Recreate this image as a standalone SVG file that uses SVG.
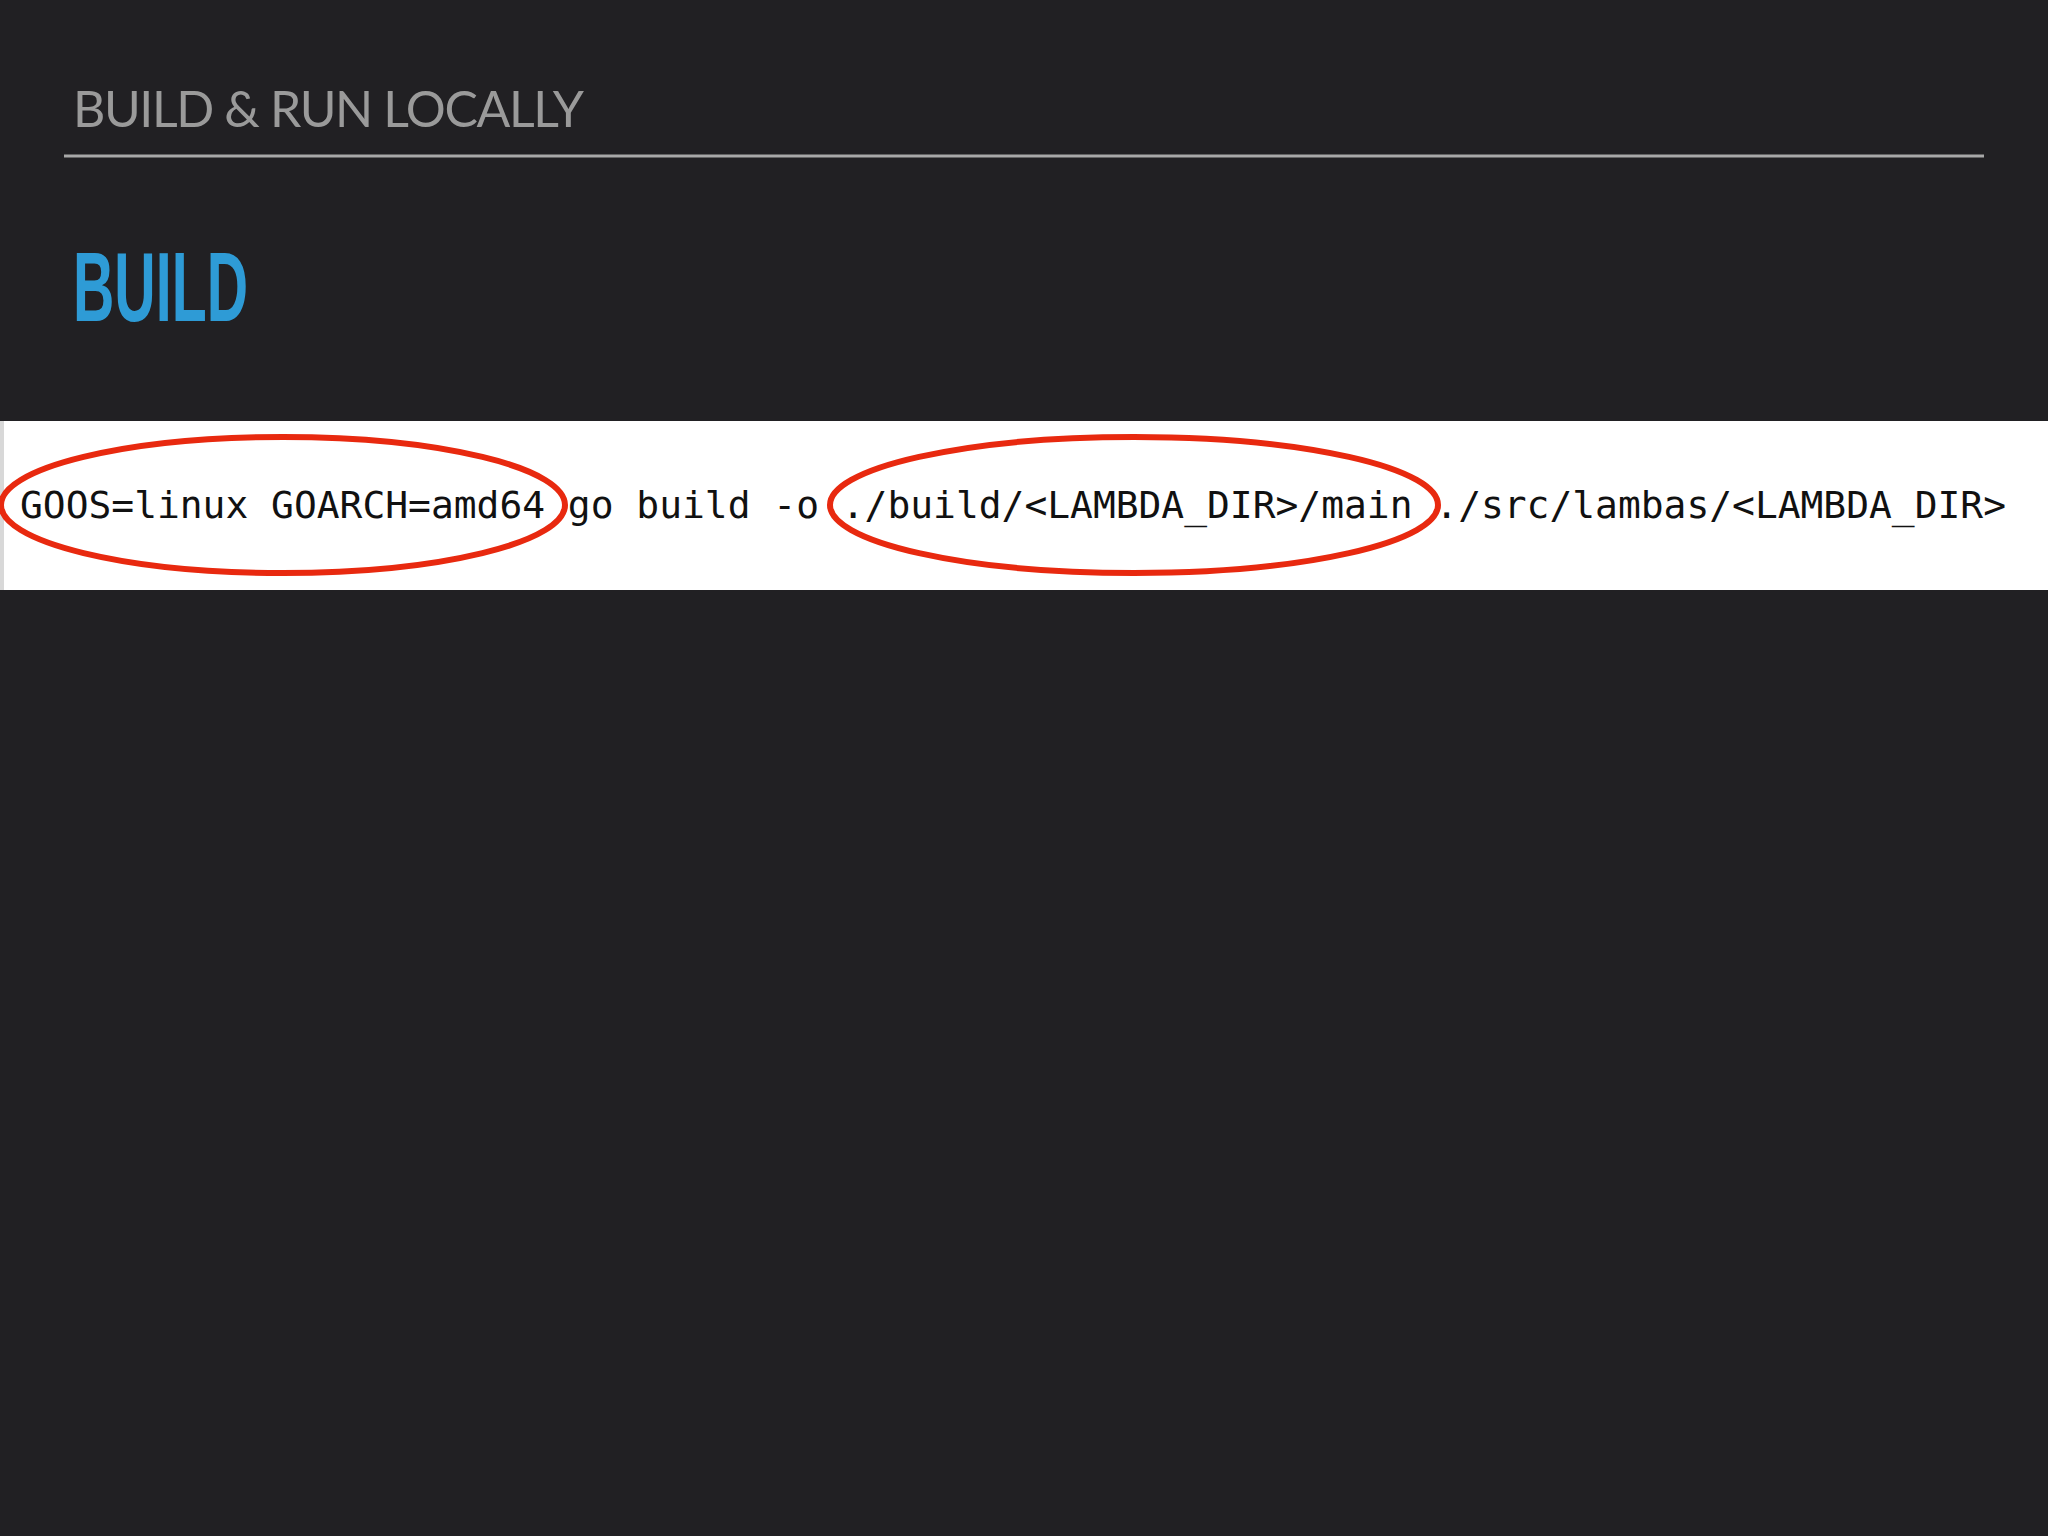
<svg xmlns="http://www.w3.org/2000/svg" width="2048" height="1536" viewBox="0 0 2048 1536">
<style>
.oval{fill:none;stroke:#e8290f;stroke-width:6}
</style>
<rect width="2048" height="1536" fill="#212023"/>
<g id="header">
<text x="73" y="127" font-family="Lato, 'Liberation Sans', sans-serif" font-size="50" fill="#9a9a9a" letter-spacing="2" textLength="513">BUILD &amp; RUN LOCALLY</text>
<line x1="64" y1="156" x2="1984" y2="156" stroke="#a8a8a8" stroke-width="3"/>
</g>
<g id="title">
<text x="73" y="321" font-family="'Liberation Sans', sans-serif" font-weight="bold" font-size="98" fill="#2e9bd6" textLength="175" lengthAdjust="spacingAndGlyphs">BUILD</text>
</g>
<g id="code">
<rect x="0" y="421" width="2048" height="169" fill="#ffffff"/>
<rect x="0" y="421" width="4" height="169" fill="#d8d8d8"/>
<text x="20" y="518" font-family="'DejaVu Sans Mono', monospace" font-size="38" fill="#111" textLength="1986" lengthAdjust="spacingAndGlyphs">GOOS=linux GOARCH=amd64 go build -o ./build/&lt;LAMBDA_DIR&gt;/main ./src/lambas/&lt;LAMBDA_DIR&gt;</text>
</g>
<g id="highlights">
<ellipse class="oval" cx="283" cy="505" rx="282" ry="68"/>
<ellipse class="oval" cx="1134" cy="505" rx="304" ry="68"/>
</g>
</svg>
